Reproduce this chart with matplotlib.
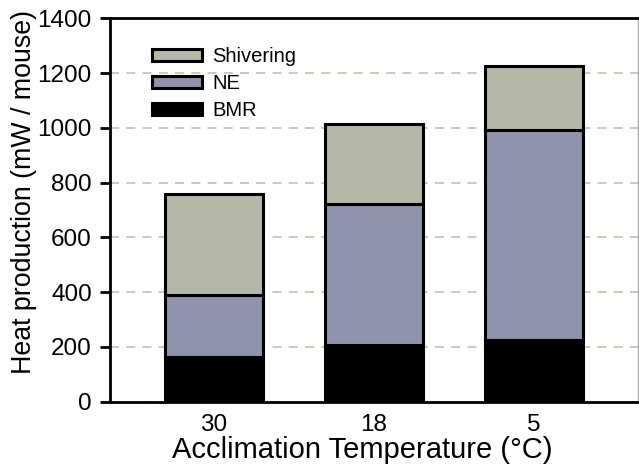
import numpy as np
import matplotlib
matplotlib.use("Agg")
import matplotlib.pyplot as plt

plt.rcParams['font.family'] = ['Liberation Sans', 'DejaVu Sans']

# acclimation temperatures and stacked heat production (mW / mouse)
temps = ["30", "18", "5"]
bmr = [164, 205, 225]
ne_top = [390, 722, 993]
shiv_top = [759, 1013, 1228]

ne = [t - b for t, b in zip(ne_top, bmr)]
shiv = [s - t for s, t in zip(shiv_top, ne_top)]

fig = plt.figure(figsize=(6.39, 4.73), dpi=100)
ax = fig.add_axes([0.172, 0.151, 0.826, 0.810])

x = np.arange(len(temps))
w = 0.61
ax.bar(x, bmr, w, color="black", edgecolor="black", linewidth=2.2, label="BMR", zorder=3)
ax.bar(x, ne, w, bottom=bmr, color="#9192ab", edgecolor="black", linewidth=2.2, label="NE", zorder=3)
ax.bar(x, shiv, w, bottom=ne_top, color="#b5b7a9", edgecolor="black", linewidth=2.2, label="Shivering", zorder=3)

ax.set_xlim(-0.65, 2.65)
ax.set_ylim(0, 1400)
ax.set_yticks(np.arange(0, 1401, 200))
ax.set_xticks(x)
ax.set_xticklabels(temps)
ax.yaxis.grid(True, linestyle=(0, (5, 4)), color="#c4c5ba", linewidth=1.3, zorder=0)
ax.tick_params(axis="y", labelsize=17.5, length=7, width=2, direction="out", pad=6)
ax.tick_params(axis="x", labelsize=17.5, length=0, pad=9)

for s in ["left", "bottom", "top"]:
    ax.spines[s].set_linewidth(2)
ax.spines["right"].set_color("#aaaaaa")
ax.spines["right"].set_linewidth(1)

ax.set_xlabel("Acclimation Temperature (°C)", fontsize=21)
ax.set_ylabel("Heat production (mW / mouse)", fontsize=19.3)
ax.xaxis.set_label_coords(0.479, -0.089)
ax.yaxis.set_label_coords(-0.138, 0.547)

h, l = ax.get_legend_handles_labels()
leg = ax.legend(h[::-1], l[::-1], loc="upper left", bbox_to_anchor=(0.079, 0.925),
                frameon=False, fontsize=14.5, handlelength=2.5, handleheight=0.55,
                handletextpad=0.5, labelspacing=0.4, borderpad=0, borderaxespad=0)

fig.savefig("out.png", dpi=100)
